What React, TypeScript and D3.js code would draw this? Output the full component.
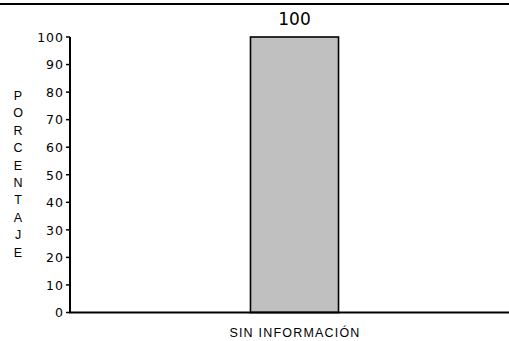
import React from "react";
import * as d3 from "d3";

const categories = ["SIN INFORMACIÓN"];
const values = [100];
const yTicks = [0, 10, 20, 30, 40, 50, 60, 70, 80, 90, 100];
const axisTitle = "PORCENTAJE";

const W = 509;
const H = 341;
const font = "'Liberation Sans', Arial, sans-serif";
const wideFont = "'DejaVu Sans', Verdana, sans-serif";

export default function App() {
    const x = d3.scaleBand<string>()
        .domain(categories)
        .range([70, 519])
        .paddingInner(0)
        .paddingOuter(2.05);

    const y = d3.scaleLinear()
        .domain([0, 100])
        .range([312.5, 37]);

    const letters = axisTitle.split("");

    return (
        <svg width={W} height={H} style={{ position: "absolute", left: 0, top: 0, background: "#fff" }}>
            {/* top rule */}
            <line x1={0} x2={W} y1={4} y2={4} stroke="#000" strokeWidth={2.2} />

            {/* bars */}
            {categories.map((c, i) => (
                <g key={c}>
                    <rect
                        x={x(c)}
                        y={y(values[i])}
                        width={x.bandwidth()}
                        height={y(0) - y(values[i])}
                        fill="#c0c0c0"
                        stroke="#000"
                        strokeWidth={1.6}
                    />
                    <text
                        x={(x(c) as number) + x.bandwidth() / 2}
                        y={y(values[i]) - 12}
                        textAnchor="middle"
                        fontFamily={wideFont}
                        fontSize={17}
                    >
                        {values[i]}
                    </text>
                    <text
                        x={(x(c) as number) + x.bandwidth() / 2 + 0.5}
                        y={337}
                        textAnchor="middle"
                        fontFamily={font}
                        fontSize={12.5}
                        letterSpacing={1.2}
                    >
                        {c}
                    </text>
                </g>
            ))}

            {/* y axis */}
            <line x1={70} x2={70} y1={y(100)} y2={y(0)} stroke="#000" strokeWidth={2} />
            {yTicks.map(t => (
                <g key={t}>
                    <line x1={66} x2={70} y1={y(t)} y2={y(t)} stroke="#000" strokeWidth={1.5} />
                    <text
                        x={64}
                        y={y(t)}
                        dy="0.38em"
                        textAnchor="end"
                        fontFamily={wideFont}
                        fontSize={12.5}
                        letterSpacing={1}
                    >
                        {t}
                    </text>
                </g>
            ))}

            {/* x axis */}
            <line x1={69} x2={W} y1={y(0)} y2={y(0)} stroke="#000" strokeWidth={2} />

            {/* stacked axis title */}
            {letters.map((l, i) => (
                <text
                    key={i}
                    x={18}
                    y={100 + i * 17.4}
                    textAnchor="middle"
                    fontFamily={font}
                    fontSize={12.5}
                >
                    {l}
                </text>
            ))}
        </svg>
    );
}
